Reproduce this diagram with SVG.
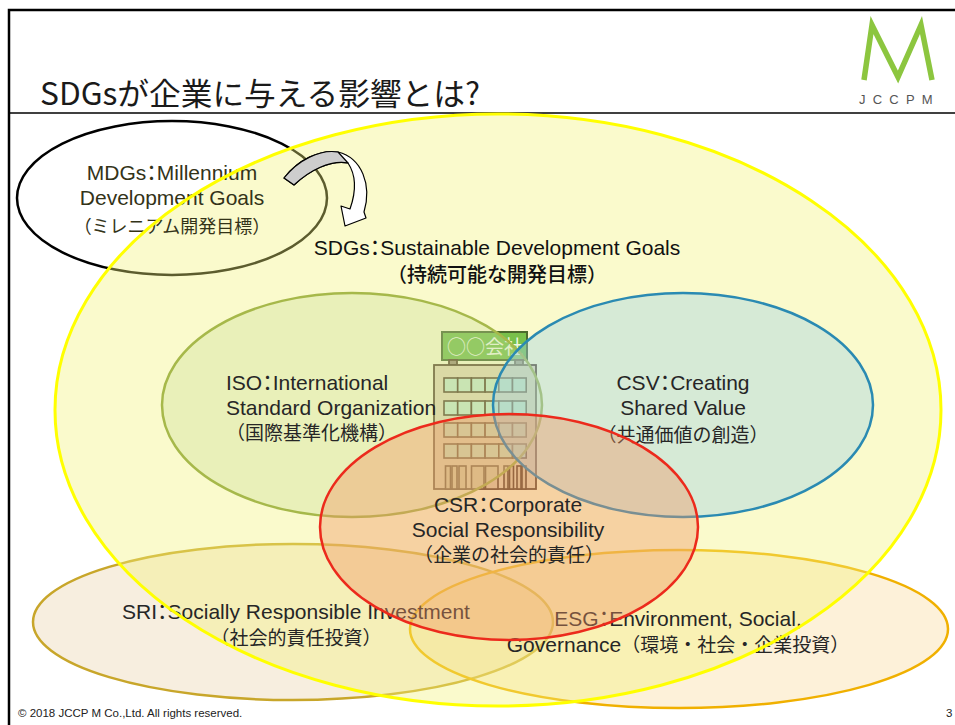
<svg xmlns="http://www.w3.org/2000/svg" xmlns:xlink="http://www.w3.org/1999/xlink" width="955" height="725" viewBox="0 0 955 725">
  <style>
    .en { font-family: "Liberation Sans", Arial, "Noto Sans CJK JP", sans-serif; font-size: 21px; fill: #262626; }
    .ja { font-family: "Noto Sans CJK JP", sans-serif; font-size: 19px; fill: #262626; }
    .mid { text-anchor: middle; }
    .colon { font-family: "Noto Sans CJK JP", sans-serif; font-feature-settings: "halt"; }
    .frame { stroke: #000; fill: none; }
    .bubble { stroke-width: 2.5; }
    .bld { stroke: #5a4628; stroke-width: 1.8; }
    .win { fill: #c9e9c4; stroke: #5a4628; stroke-width: 1.6; }
    .door { fill: #d9cca0; stroke: #5a4628; stroke-width: 1.6; }
  </style>
  <defs>
    <ellipse id="sdgs-shape" cx="498" cy="410" rx="443" ry="296"/>
    <!-- one floor of six windows -->
    <g id="winrow">
      <rect class="win" x="444" y="0" width="13.7" height="14"/>
      <rect class="win" x="457.7" y="0" width="13.7" height="14"/>
      <rect class="win" x="471.4" y="0" width="13.7" height="14"/>
      <rect class="win" x="485.1" y="0" width="13.7" height="14"/>
      <rect class="win" x="498.8" y="0" width="13.7" height="14"/>
      <rect class="win" x="512.5" y="0" width="13.7" height="14"/>
    </g>
  </defs>

  <rect width="955" height="725" fill="#fff"/>

  <!-- slide frame and header -->
  <g id="header">
    <path class="frame" d="M9,725 V10 H955" stroke-width="2.5"/>
    <path class="frame" d="M9,113 H955" stroke-width="1.5"/>
    <text x="40" y="105" font-family="Noto Sans CJK JP, sans-serif" font-size="31" fill="#1a1a1a" textLength="440" lengthAdjust="spacingAndGlyphs">SDGsが企業に与える影響とは?</text>
    <g id="logo">
      <polyline points="864,80 872,25 898,77 921,25 932,80" fill="none" stroke="#8cc63f" stroke-width="5.5"/>
      <text x="859" y="104" font-family="Liberation Sans, Arial, sans-serif" font-size="13" fill="#555" letter-spacing="7.2">JCCPM</text>
    </g>
  </g>

  <!-- outer bubbles, later washed by the SDGs tint -->
  <g id="sri">
    <ellipse class="bubble" cx="293" cy="622" rx="260" ry="78" fill="rgb(230,200,150)" fill-opacity="0.3" stroke="#c8a62a"/>
  </g>
  <g id="esg">
    <ellipse class="bubble" cx="679" cy="629" rx="269" ry="79" fill="rgb(250,210,130)" fill-opacity="0.3" stroke="#f0b000"/>
  </g>
  <g id="mdgs">
    <ellipse class="bubble" cx="172" cy="198" rx="155" ry="77" fill="none" stroke="#000"/>
  </g>

  <!-- SDGs: translucent wash -->
  <g id="sdgs">
    <use xlink:href="#sdgs-shape" fill="#f3f37a" fill-opacity="0.38"/>
  </g>

  <!-- labels of the outer bubbles -->
  <g id="sri-label">
    <text class="en mid" x="296" y="619">SRI<tspan class="colon">：</tspan>Socially Responsible Investment</text>
    <text class="ja mid" x="296" y="645">（社会的責任投資）</text>
  </g>
  <g id="esg-label">
    <text class="en mid" x="678" y="626">ESG<tspan class="colon">：</tspan>Environment, Social,</text>
    <text class="en mid" x="678" y="652">Governance<tspan class="ja">（環境・社会・企業投資）</tspan></text>
  </g>
  <g id="mdgs-label">
    <text class="en mid" x="172" y="180" style="fill:#333318">MDGs<tspan class="colon">：</tspan>Millennium</text>
    <text class="en mid" x="172" y="205" style="fill:#333318">Development Goals</text>
    <text class="ja mid" x="172" y="233" style="font-size:18px;fill:#333318">（ミレニアム開発目標）</text>
  </g>

  <!-- SDGs rim and label -->
  <g id="sdgs-rim">
    <use xlink:href="#sdgs-shape" fill="none" stroke="#ffff00" stroke-width="3"/>
    <text class="en mid" x="497" y="255" style="fill:#111">SDGs<tspan class="colon">：</tspan>Sustainable Development Goals</text>
    <text class="ja mid" x="497" y="282" style="font-size:20px;font-weight:500;fill:#111">（持続可能な開発目標）</text>
  </g>

  <!-- company building -->
  <g id="company">
    <rect x="442" y="332" width="85" height="28" fill="#78c04a" stroke="#4c6a2c" stroke-width="2"/>
    <text x="485" y="354" text-anchor="middle" font-family="Noto Sans CJK JP, sans-serif" font-size="19" fill="#eef8e0">○○会社</text>
    <rect class="bld" x="449" y="360" width="8" height="5" fill="#a09070"/>
    <rect class="bld" x="515" y="360" width="8" height="5" fill="#a09070"/>
    <rect class="bld" x="434" y="365" width="102" height="124" fill="#e3d7ae"/>
    <use xlink:href="#winrow" y="378"/>
    <use xlink:href="#winrow" y="401"/>
    <use xlink:href="#winrow" y="423"/>
    <use xlink:href="#winrow" y="444"/>
    <rect class="door" x="445.5" y="466" width="5" height="23"/>
    <rect class="door" x="452" y="466" width="5" height="23"/>
    <rect class="door" x="459" y="466" width="7" height="23"/>
    <rect class="door" x="471.5" y="466" width="12.5" height="23"/>
    <rect class="door" x="485.5" y="466" width="12.5" height="23"/>
    <rect class="door" x="504" y="466" width="4" height="23"/>
    <rect class="door" x="509.5" y="466" width="4" height="23"/>
    <rect class="door" x="517" y="466" width="4" height="23"/>
    <rect class="door" x="522" y="466" width="4" height="23"/>
  </g>

  <!-- ISO -->
  <g id="iso">
    <ellipse class="bubble" cx="352" cy="405" rx="190" ry="112" fill="rgb(200,220,150)" fill-opacity="0.35" stroke="#a6b84a"/>
    <text class="en" x="226" y="390">ISO<tspan class="colon">：</tspan>International</text>
    <text class="en" x="226" y="415">Standard Organization</text>
    <text class="ja" x="226" y="440">（国際基準化機構）</text>
  </g>

  <!-- CSV -->
  <g id="csv">
    <ellipse class="bubble" cx="683" cy="405" rx="190" ry="112" fill="rgb(160,210,230)" fill-opacity="0.4" stroke="#2a8ab2"/>
    <text class="en mid" x="683" y="390">CSV<tspan class="colon">：</tspan>Creating</text>
    <text class="en mid" x="683" y="415">Shared Value</text>
    <text class="ja mid" x="683" y="442">（共通価値の創造）</text>
  </g>

  <!-- CSR -->
  <g id="csr">
    <ellipse class="bubble" cx="509" cy="527" rx="189" ry="113" fill="rgb(240,150,100)" fill-opacity="0.4" stroke="#ec2a1c"/>
    <text class="en mid" x="508" y="512">CSR<tspan class="colon">：</tspan>Corporate</text>
    <text class="en mid" x="508" y="537">Social Responsibility</text>
    <text class="ja mid" x="509" y="562">（企業の社会的責任）</text>
  </g>

  <!-- MDGs to SDGs curved arrow -->
  <g id="connectors">
    <path d="M284,178 C298,160 320,149 338,152 C362,158 372,185 364,212 L366,218 L345,226 L341,206 L350,209 C356,192 356,175 348,163 C330,160 310,170 294,185 Z" fill="#fff" stroke="#000" stroke-width="1.2" stroke-linejoin="round"/>
    <path d="M284,178 C298,160 320,149 338,152 L348,163 C330,160 310,170 294,185 Z" fill="#c4c4c4" fill-opacity="0.85" stroke="#000" stroke-width="1.2" stroke-linejoin="round"/>
  </g>

  <!-- footer -->
  <g id="footer">
    <text x="18" y="717" font-family="Liberation Sans, Arial, sans-serif" font-size="11.5" fill="#222">© 2018 JCCP M Co.,Ltd. All rights reserved.</text>
    <text x="946" y="717" font-family="Liberation Sans, Arial, sans-serif" font-size="11.5" fill="#222">3</text>
  </g>
</svg>
